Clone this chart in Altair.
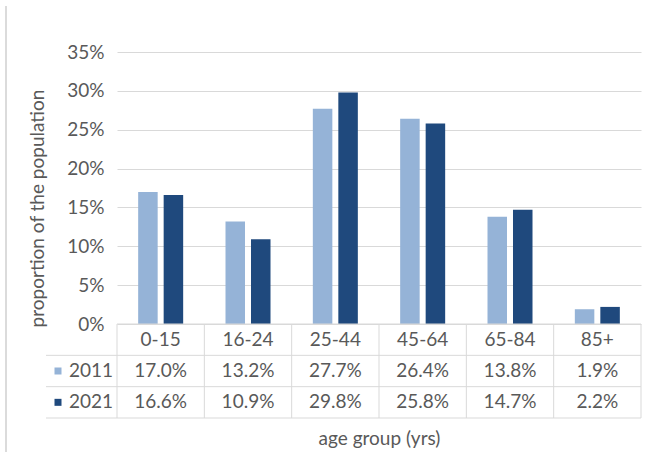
import altair as alt
import pandas as pd

# Age-group shares of the population, census 2011 vs 2021
ages = ["0-15", "16-24", "25-44", "45-64", "65-84", "85+"]
years = ["2011", "2021"]
share_2011 = [0.170, 0.132, 0.277, 0.264, 0.138, 0.019]
share_2021 = [0.166, 0.109, 0.298, 0.258, 0.147, 0.022]
y_ticks = [0.0, 0.05, 0.10, 0.15, 0.20, 0.25, 0.30, 0.35]
table_rows = ["hdr", "2011", "2021"]

long = pd.DataFrame({
    "age": ages * 2,
    "year": [years[0]] * len(ages) + [years[1]] * len(ages),
    "share": share_2011 + share_2021,
})
head = pd.DataFrame({"age": ages, "row": "hdr"})
legend_df = pd.DataFrame({"year": years})

FONT = "Lato"
SIZE = 19
GREY = "#595959"
LINE = "#D9D9D9"
COLORS = ["#95B3D7", "#1F497D"]
W, H_PLOT, H_TAB = 524, 272, 94

x_band = alt.Scale(domain=ages, paddingInner=0, paddingOuter=0)
y_rows = alt.Scale(domain=table_rows, paddingInner=0, paddingOuter=0)
color = alt.Color("year:N", scale=alt.Scale(domain=years, range=COLORS), legend=None)

# ---- bar panel ----
bars = alt.Chart(long).mark_bar().encode(
    x=alt.X("age:N", scale=x_band, sort=ages, axis=None),
    xOffset=alt.XOffset("year:N", scale=alt.Scale(domain=years, paddingInner=0.235, paddingOuter=0.83)),
    y=alt.Y(
        "share:Q",
        scale=alt.Scale(domain=[0, 0.35], nice=False),
        axis=alt.Axis(
            values=y_ticks, format=".0%", title="proportion of the population",
            grid=True, gridColor=LINE, gridWidth=1, domain=False, ticks=False,
            labelPadding=13, labelFont=FONT, labelFontSize=SIZE, labelColor=GREY,
            titleFont=FONT, titleFontSize=SIZE, titleColor=GREY, titleFontWeight="normal",
            titleX=-80, titleY=156, titleAlign="center", titleBaseline="middle", titleAngle=-90,
        ),
    ),
    color=color,
).properties(width=W, height=H_PLOT)

# ---- data table under the bars ----
x_axis_tab = alt.Axis(
    title="age group (yrs)", labels=False, ticks=False, domain=False, grid=False,
    titleFont=FONT, titleFontSize=SIZE, titleColor=GREY, titleFontWeight="normal",
    titleY=20, titleBaseline="middle",
)

def xtab(**kw):
    return alt.X("age:N", scale=x_band, sort=ages, axis=x_axis_tab, **kw)

def yrow(field, **kw):
    return alt.Y(field, scale=y_rows, sort=table_rows, axis=None, **kw)

hdr_text = alt.Chart(head).mark_text(font=FONT, fontSize=SIZE, color=GREY).encode(
    x=xtab(), y=yrow("row:N"), text="age:N"
)
val_text = alt.Chart(long).mark_text(font=FONT, fontSize=SIZE, color=GREY).encode(
    x=xtab(), y=yrow("year:N"), text=alt.Text("share:Q", format=".1%")
)
col_lines = alt.Chart(head).mark_rule(color=LINE, strokeWidth=1).encode(
    x=xtab(bandPosition=0)
)
right_line = alt.Chart(pd.DataFrame({"age": [ages[-1]]})).mark_rule(color=LINE, strokeWidth=1).encode(
    x=xtab(bandPosition=1)
)
top_line = alt.Chart(pd.DataFrame({"row": ["hdr"]})).mark_rule(color=LINE, strokeWidth=1).encode(
    y=yrow("row:N", bandPosition=0), x=alt.value(0), x2=alt.value("width")
)
row_lines = alt.Chart(pd.DataFrame({"row": years})).mark_rule(color=LINE, strokeWidth=1).encode(
    y=yrow("row:N", bandPosition=0), x=alt.value(-71), x2=alt.value("width")
)
bottom_line = alt.Chart(pd.DataFrame({"row": [years[-1]]})).mark_rule(color=LINE, strokeWidth=1).encode(
    y=yrow("row:N", bandPosition=1), x=alt.value(-71), x2=alt.value("width")
)
legend_sq = alt.Chart(legend_df).mark_square(size=49, opacity=1).encode(
    x=alt.value(-59), y=yrow("year:N"), color=color
)
legend_txt = alt.Chart(legend_df).mark_text(font=FONT, fontSize=SIZE, color=GREY, align="left").encode(
    x=alt.value(-48), y=yrow("year:N"), text="year:N"
)
# thin frame line along the left edge of the figure
frame = alt.Chart(legend_df.iloc[:1]).mark_rule(color="#CFCFCF", strokeWidth=1.5).encode(
    x=alt.value(-111), y=alt.value(-318), y2=alt.value(128)
)

table = alt.layer(
    col_lines, right_line, top_line, row_lines, bottom_line,
    hdr_text, val_text, legend_sq, legend_txt, frame,
).properties(width=W, height=H_TAB)

chart = alt.vconcat(bars, table, spacing=0, bounds="flush").properties(
    padding={"left": 5, "top": 5, "right": 0, "bottom": 0}
).configure_view(stroke=None)

chart.save("out.html", embed_options={"renderer": "svg", "actions": False})
